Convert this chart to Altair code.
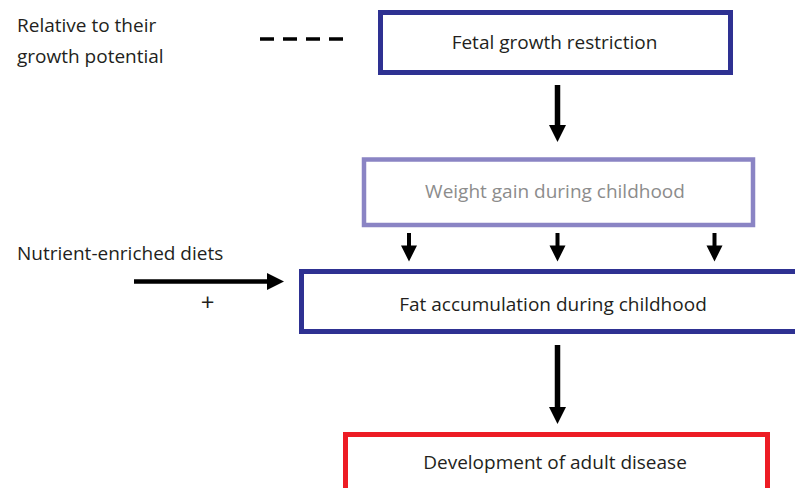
import altair as alt
import pandas as pd

# ---- content ----
node_labels = ["Fetal growth restriction", "Weight gain during childhood",
               "Fat accumulation during childhood", "Development of adult disease"]
node_stroke = ["#2E3192", "#8A84C4", "#2E3192", "#ED1C24"]
node_text_color = ["#231F20", "#8C8C8C", "#231F20", "#231F20"]
side_labels = ["Relative to their", "growth potential", "Nutrient-enriched diets"]
plus_label = ["+"]

# ---- layout (pixel space of the figure) ----
box_x0 = [380.5, 364.0, 301.5, 345.5]
box_x1 = [730.5, 753.0, 806.0, 767.5]
box_y0 = [12.5, 159.5, 271.5, 434.5]
box_y1 = [72.5, 225.0, 331.5, 494.5]
box_sw = [5.0, 4.5, 5.0, 5.0]
node_tx = [554.5, 555.0, 553.0, 555.0]
node_ty = [48.5, 198.0, 311.0, 469.0]

side_tx = [17, 17, 17]
side_ty = [32, 63, 260]
plus_tx = [207.5]
plus_ty = [311]

# arrows: shaft (x0,y0)-(x1,y1), width; head centre, size, shape
shaft_x0 = [557.5, 409.0, 557.5, 714.5, 134.0, 557.5]
shaft_x1 = [557.5, 409.0, 557.5, 714.5, 270.0, 557.5]
shaft_y0 = [85.0, 233.0, 233.0, 233.0, 281.5, 345.0]
shaft_y1 = [127.0, 247.0, 247.0, 247.0, 281.5, 409.0]
shaft_w = [5.5, 4.0, 4.0, 4.0, 4.5, 5.5]
down = "M-1,-1L1,-1L0,1Z"
right = "M-1,-1L1,0L-1,1Z"
head_x = [557.5, 409.0, 557.5, 714.5, 275.5, 557.5]
head_y = [133.5, 253.5, 253.5, 253.5, 281.5, 415.5]
head_size = [289, 256, 256, 256, 289, 289]
head_shape = [down, down, down, down, right, down]

dash_x = [260.0]
dash_x2 = [344.0]
dash_y = [39.0]

FONT = "Open Sans"
FS = 19

X = lambda f: alt.X(f, type="quantitative", scale=alt.Scale(domain=[0, 803], nice=False, zero=False), axis=None)
Y = lambda f: alt.Y(f, type="quantitative", scale=alt.Scale(domain=[0, 496], nice=False, zero=False, reverse=True), axis=None)

boxes = pd.DataFrame(dict(x=box_x0, x2=box_x1, y=box_y0, y2=box_y1, sw=box_sw, c=node_stroke))
box_layer = alt.Chart(boxes).mark_rect(fill="white").encode(
    x=X("x"), x2="x2", y=Y("y"), y2="y2",
    stroke=alt.Stroke("c:N", scale=None),
    strokeWidth=alt.StrokeWidth("sw:Q", scale=None),
)

shafts = pd.DataFrame(dict(x=shaft_x0, x2=shaft_x1, y=shaft_y0, y2=shaft_y1, w=shaft_w))
shaft_layer = alt.Chart(shafts).mark_rule(color="#000000").encode(
    x=X("x"), x2="x2", y=Y("y"), y2="y2",
    strokeWidth=alt.StrokeWidth("w:Q", scale=None),
)

heads = pd.DataFrame(dict(x=head_x, y=head_y, s=head_size, sh=head_shape))
head_layer = alt.Chart(heads).mark_point(filled=True, color="#000000", opacity=1, strokeWidth=0).encode(
    x=X("x"), y=Y("y"),
    size=alt.Size("s:Q", scale=None),
    shape=alt.Shape("sh:N", scale=None),
)

dash = pd.DataFrame(dict(x=dash_x, x2=dash_x2, y=dash_y))
dash_layer = alt.Chart(dash).mark_rule(color="#000000", strokeWidth=3.5, strokeDash=[14, 9]).encode(
    x=X("x"), x2="x2", y=Y("y"),
)

node_text = pd.DataFrame(dict(t=node_labels, x=node_tx, y=node_ty, c=node_text_color))
node_text_layer = alt.Chart(node_text).mark_text(
    font=FONT, fontSize=FS, align="center", baseline="alphabetic").encode(
    x=X("x"), y=Y("y"), text="t:N", color=alt.Color("c:N", scale=None),
)

side_text = pd.DataFrame(dict(t=side_labels, x=side_tx, y=side_ty))
side_text_layer = alt.Chart(side_text).mark_text(
    font=FONT, fontSize=FS, align="left", baseline="alphabetic", color="#231F20").encode(
    x=X("x"), y=Y("y"), text="t:N",
)

plus = pd.DataFrame(dict(t=plus_label, x=plus_tx, y=plus_ty))
plus_layer = alt.Chart(plus).mark_text(
    font=FONT, fontSize=24, align="center", baseline="alphabetic", color="#231F20").encode(
    x=X("x"), y=Y("y"), text="t:N",
)

chart = alt.layer(
    box_layer, shaft_layer, head_layer, dash_layer,
    node_text_layer, side_text_layer, plus_layer,
).properties(
    width=803, height=496,
    autosize=alt.AutoSizeParams(type="none"),
    padding={"left": -8, "top": -8, "right": -8, "bottom": -8},
    background="white",
).configure_view(strokeWidth=0)

chart.save("out.html", embed_options={"renderer": "svg", "actions": False})
